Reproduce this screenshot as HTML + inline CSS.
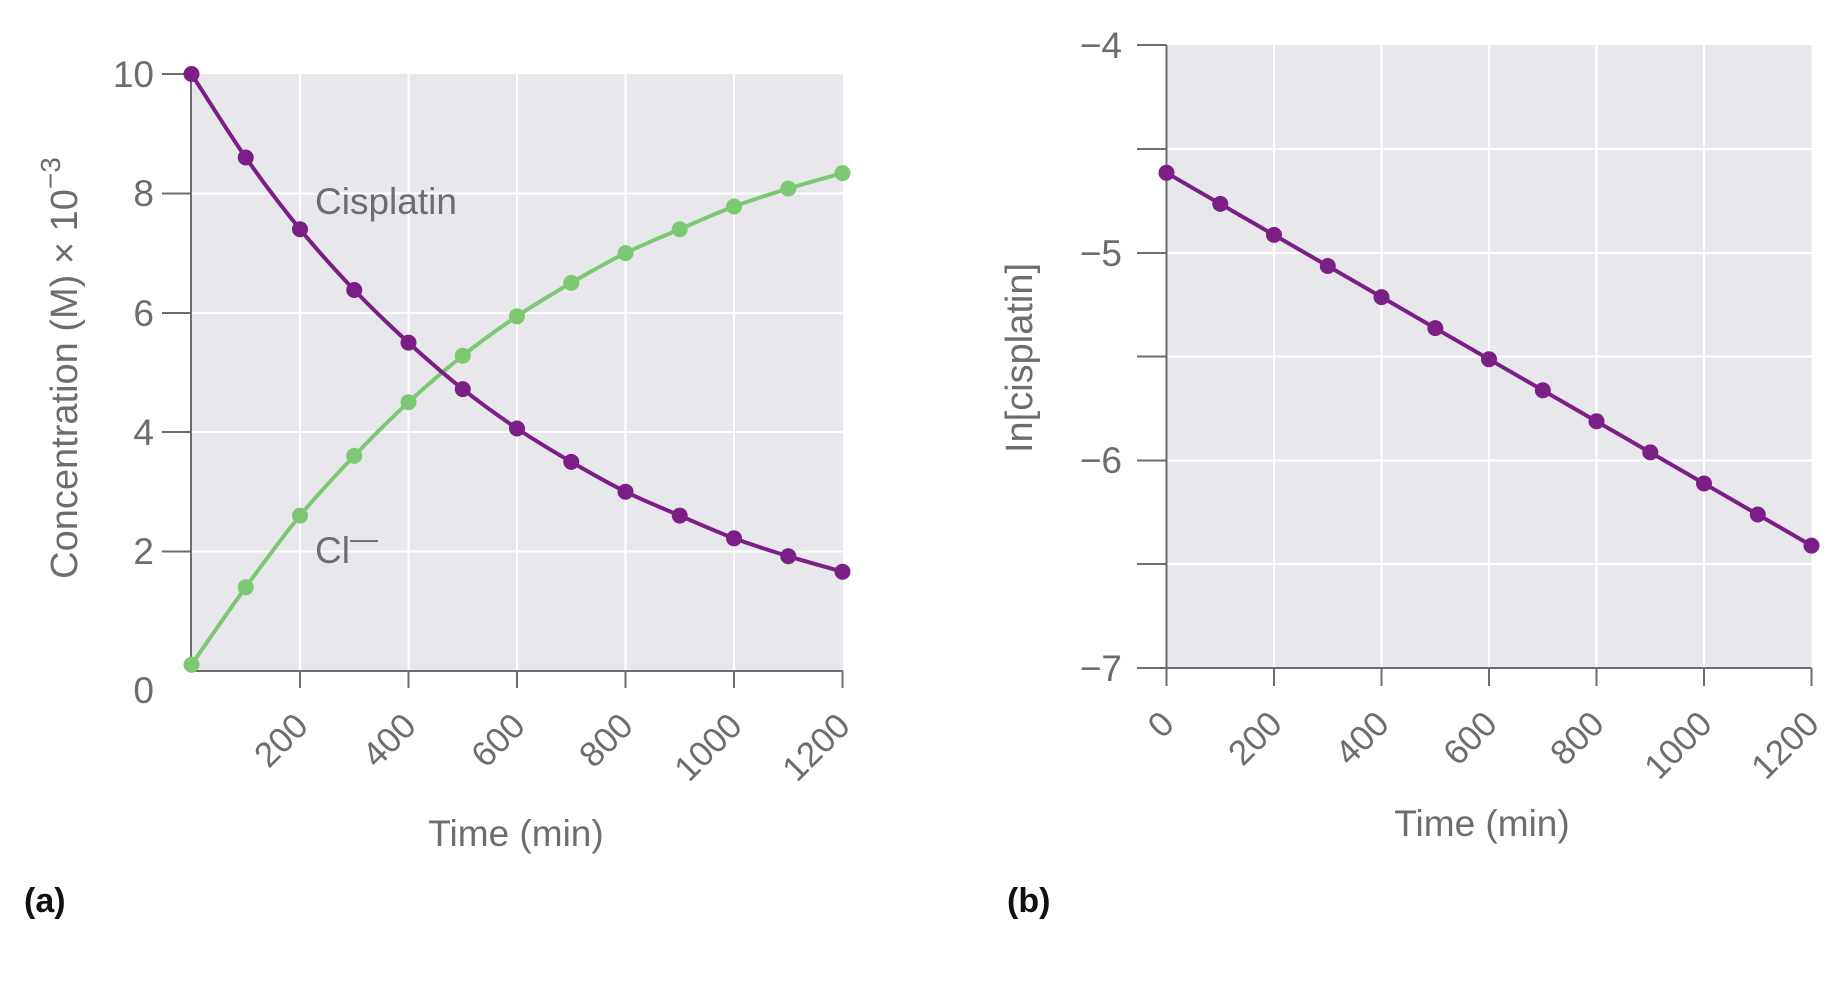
<!DOCTYPE html>
<html><head><meta charset="utf-8"><style>
html,body{margin:0;padding:0;background:#fff;}
svg{display:block;font-family:"Liberation Sans",sans-serif;}
</style></head><body>
<svg width="1839" height="986" viewBox="0 0 1839 986" xmlns="http://www.w3.org/2000/svg">
<!-- Panel a -->
<rect x="191" y="74" width="652" height="597" fill="#e8e8ec"/>
<g stroke="#fff" stroke-width="2">
<line x1="300" y1="74" x2="300" y2="671"/><line x1="408.5" y1="74" x2="408.5" y2="671"/><line x1="517" y1="74" x2="517" y2="671"/><line x1="625.5" y1="74" x2="625.5" y2="671"/><line x1="734" y1="74" x2="734" y2="671"/>
<line x1="191" y1="193.5" x2="843" y2="193.5"/><line x1="191" y1="313" x2="843" y2="313"/><line x1="191" y1="432" x2="843" y2="432"/><line x1="191" y1="551.5" x2="843" y2="551.5"/>
</g>
<g stroke="#6d6d70" stroke-width="2">
<line x1="191" y1="74" x2="191" y2="671"/><line x1="191" y1="671" x2="843" y2="671"/>
<line x1="162" y1="74" x2="191" y2="74"/><line x1="162" y1="193.5" x2="191" y2="193.5"/><line x1="162" y1="313" x2="191" y2="313"/><line x1="162" y1="432" x2="191" y2="432"/><line x1="162" y1="551.5" x2="191" y2="551.5"/>
<line x1="300" y1="671" x2="300" y2="688"/><line x1="408.5" y1="671" x2="408.5" y2="688"/><line x1="517" y1="671" x2="517" y2="688"/><line x1="625.5" y1="671" x2="625.5" y2="688"/><line x1="734" y1="671" x2="734" y2="688"/><line x1="842.5" y1="671" x2="842.5" y2="688"/>
</g>
<g fill="#6d6d70" font-size="37" text-anchor="end">
<text x="154" y="87">10</text><text x="154" y="206">8</text><text x="154" y="326">6</text><text x="154" y="445">4</text><text x="154" y="564">2</text><text x="154" y="703">0</text>
</g>
<g fill="#6d6d70" font-size="35" text-anchor="end">
<text transform="translate(310,728) rotate(-45)">200</text>
<text transform="translate(418,728) rotate(-45)">400</text>
<text transform="translate(527,728) rotate(-45)">600</text>
<text transform="translate(635,728) rotate(-45)">800</text>
<text transform="translate(744,728) rotate(-45)">1000</text>
<text transform="translate(852,728) rotate(-45)">1200</text>
</g>
<text x="516" y="846" fill="#6d6d70" font-size="37" text-anchor="middle">Time (min)</text>
<text transform="translate(77,368) rotate(-90)" fill="#6d6d70" font-size="38" text-anchor="middle">Concentration (M) × 10<tspan dy="-17" font-size="28">−3</tspan></text>
<text x="315" y="214" fill="#6d6d70" font-size="37">Cisplatin</text>
<text x="315" y="563" fill="#6d6d70" font-size="37">Cl<tspan dy="-15" font-size="28">—</tspan></text>
<text x="24" y="912" fill="#111" font-size="34" font-weight="bold">(a)</text>
<path id="g" fill="none" stroke="#7dc873" stroke-width="4"/>
<g id="gd" fill="#7dc873"></g>
<path id="p" fill="none" stroke="#7b1f86" stroke-width="4"/>
<g id="pd" fill="#7b1f86"></g>

<!-- Panel b -->
<rect x="1166.5" y="45" width="645" height="623" fill="#e8e8ec"/>
<g stroke="#fff" stroke-width="2">
<line x1="1274" y1="45" x2="1274" y2="668"/><line x1="1381.5" y1="45" x2="1381.5" y2="668"/><line x1="1489" y1="45" x2="1489" y2="668"/><line x1="1596.5" y1="45" x2="1596.5" y2="668"/><line x1="1704" y1="45" x2="1704" y2="668"/>
<line x1="1166.5" y1="149" x2="1811.5" y2="149"/><line x1="1166.5" y1="253" x2="1811.5" y2="253"/><line x1="1166.5" y1="356.5" x2="1811.5" y2="356.5"/><line x1="1166.5" y1="460.5" x2="1811.5" y2="460.5"/><line x1="1166.5" y1="564" x2="1811.5" y2="564"/>
</g>
<g stroke="#6d6d70" stroke-width="2">
<line x1="1166.5" y1="45" x2="1166.5" y2="668"/><line x1="1137" y1="668" x2="1811.5" y2="668"/>
<line x1="1137" y1="45" x2="1166.5" y2="45"/><line x1="1137" y1="149" x2="1166.5" y2="149"/><line x1="1137" y1="253" x2="1166.5" y2="253"/><line x1="1137" y1="356.5" x2="1166.5" y2="356.5"/><line x1="1137" y1="460.5" x2="1166.5" y2="460.5"/><line x1="1137" y1="564" x2="1166.5" y2="564"/>
<line x1="1166.5" y1="668" x2="1166.5" y2="686"/><line x1="1274" y1="668" x2="1274" y2="686"/><line x1="1381.5" y1="668" x2="1381.5" y2="686"/><line x1="1489" y1="668" x2="1489" y2="686"/><line x1="1596.5" y1="668" x2="1596.5" y2="686"/><line x1="1704" y1="668" x2="1704" y2="686"/><line x1="1811.5" y1="668" x2="1811.5" y2="686"/>
</g>
<g fill="#6d6d70" font-size="37" text-anchor="end">
<text x="1122" y="58">−4</text><text x="1122" y="266">−5</text><text x="1122" y="473">−6</text><text x="1122" y="681">−7</text>
</g>
<g fill="#6d6d70" font-size="35" text-anchor="end">
<text transform="translate(1176,726) rotate(-45)">0</text>
<text transform="translate(1284,726) rotate(-45)">200</text>
<text transform="translate(1391,726) rotate(-45)">400</text>
<text transform="translate(1499,726) rotate(-45)">600</text>
<text transform="translate(1606,726) rotate(-45)">800</text>
<text transform="translate(1714,726) rotate(-45)">1000</text>
<text transform="translate(1821,726) rotate(-45)">1200</text>
</g>
<text x="1482" y="836" fill="#6d6d70" font-size="37" text-anchor="middle">Time (min)</text>
<text transform="translate(1032,358) rotate(-90)" fill="#6d6d70" font-size="38" text-anchor="middle">In[cisplatin]</text>
<text x="1007" y="912" fill="#111" font-size="34" font-weight="bold">(b)</text>
<polyline fill="none" stroke="#7b1f86" stroke-width="4" points="1166.5,172.8 1811.5,545.6"/>
<g fill="#7b1f86">
<circle cx="1166.5" cy="172.8" r="8"/><circle cx="1220.3" cy="203.9" r="8"/><circle cx="1274" cy="234.9" r="8"/><circle cx="1327.8" cy="266" r="8"/><circle cx="1381.5" cy="297.1" r="8"/><circle cx="1435.3" cy="328.1" r="8"/><circle cx="1489" cy="359.2" r="8"/><circle cx="1542.8" cy="390.3" r="8"/><circle cx="1596.5" cy="421.3" r="8"/><circle cx="1650.3" cy="452.4" r="8"/><circle cx="1704" cy="483.5" r="8"/><circle cx="1757.8" cy="514.5" r="8"/><circle cx="1811.5" cy="545.6" r="8"/>
</g>
</svg>
<script>
(function(){
var NS="http://www.w3.org/2000/svg";
var gy=[664.7,587.2,515.6,455.9,402.2,355.7,316.3,282.9,253.1,229.2,206.5,188.6,173.1];
var py=[74,157.5,229.2,290,342.6,389.1,428.5,461.9,491.7,515.6,538.3,556.2,571.7];
function build(ys,pathId,dotId){
  var pts=ys.map(function(y,i){return [191.5+54.25*i,y];});
  var d="M"+pts[0][0]+","+pts[0][1];
  for(var i=0;i<pts.length-1;i++){
    var p0=pts[Math.max(0,i-1)],p1=pts[i],p2=pts[i+1],p3=pts[Math.min(pts.length-1,i+2)];
    var c1=[p1[0]+(p2[0]-p0[0])/6,p1[1]+(p2[1]-p0[1])/6];
    var c2=[p2[0]-(p3[0]-p1[0])/6,p2[1]-(p3[1]-p1[1])/6];
    d+=" C"+c1[0]+","+c1[1]+" "+c2[0]+","+c2[1]+" "+p2[0]+","+p2[1];
  }
  document.getElementById(pathId).setAttribute("d",d);
  var g=document.getElementById(dotId);
  pts.forEach(function(p){var c=document.createElementNS(NS,"circle");c.setAttribute("cx",p[0]);c.setAttribute("cy",p[1]);c.setAttribute("r",8);g.appendChild(c);});
}
build(gy,"g","gd");build(py,"p","pd");
})();
</script>
</body></html>
